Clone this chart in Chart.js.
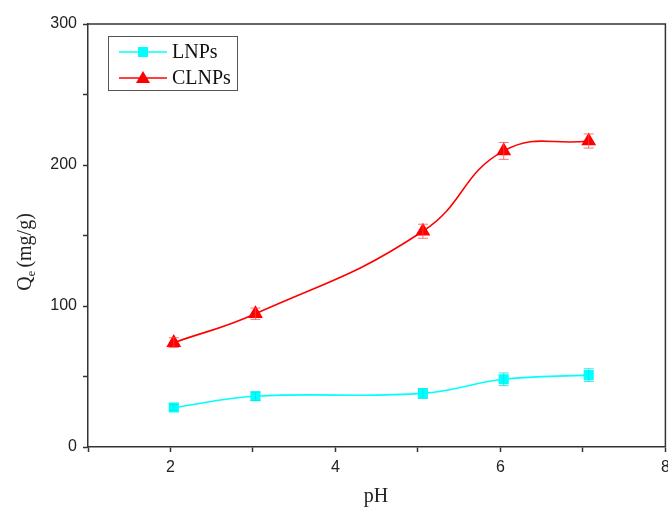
<!DOCTYPE html>
<html>
<head>
<meta charset="utf-8">
<script src="https://cdn.jsdelivr.net/npm/chart.js@4/dist/chart.umd.min.js"></script>
<style>
html,body{margin:0;padding:0;background:#fff;overflow:hidden;}
#wrap{width:668px;height:513px;position:relative;overflow:hidden;}
</style>
</head>
<body>
<div id="wrap"><canvas id="c" width="674" height="513"></canvas></div>
<script>
const phValues = [2.04, 3.03, 5.06, 6.04, 7.07];
const lnpsQe = [28, 36, 38, 48, 51];
const lnpsErr = [2, 3, 3.5, 4.5, 4.5];
const clnpsQe = [74, 94.5, 153, 210, 217];
const clnpsErr = [3.5, 4, 5, 6, 5];
const seriesNames = ['LNPs', 'CLNPs'];
const xTickLabels = [2, 4, 6, 8];
const yTickLabels = [0, 100, 200, 300];

const CYAN = '#00FFFF';
const RED = '#FF0000';
const AXIS = '#333333';

function pts(xs, ys){ return xs.map((x,i)=>({x:x, y:ys[i]})); }

const errorBars = {
  id:'errorBars',
  afterDatasetsDraw(chart){
    const ctx = chart.ctx;
    const ys = chart.scales.y, xs = chart.scales.x;
    chart.data.datasets.forEach((ds)=>{
      ctx.save();
      ctx.strokeStyle = ds.errColor;
      ctx.lineWidth = 1;
      ds.data.forEach((p,i)=>{
        const e = ds.errors[i];
        const px = xs.getPixelForValue(p.x);
        const y1 = ys.getPixelForValue(p.y + e);
        const y2 = ys.getPixelForValue(p.y - e);
        ctx.beginPath();
        ctx.moveTo(px, y1); ctx.lineTo(px, y2);
        ctx.moveTo(px-5, y1); ctx.lineTo(px+5, y1);
        ctx.moveTo(px-5, y2); ctx.lineTo(px+5, y2);
        ctx.stroke();
      });
      ctx.restore();
    });
  }
};

const frameAndLabels = {
  id:'frameAndLabels',
  afterDraw(chart){
    const ctx = chart.ctx;
    const a = chart.chartArea;
    ctx.save();
    ctx.strokeStyle = AXIS;
    ctx.lineWidth = 1.5;
    ctx.beginPath();
    ctx.moveTo(a.left, a.top); ctx.lineTo(a.right, a.top); ctx.lineTo(a.right, a.bottom);
    ctx.stroke();
    // x title
    ctx.fillStyle = '#222';
    ctx.font = '20px "Liberation Serif", "Times New Roman", serif';
    ctx.textAlign = 'center';
    ctx.textBaseline = 'middle';
    ctx.fillText('pH', 376, 497);
    // y title with subscript
    ctx.translate(24, 252);
    ctx.rotate(-Math.PI/2);
    const f1 = '20px "Liberation Serif", "Times New Roman", serif';
    const f2 = '13px "Liberation Serif", "Times New Roman", serif';
    ctx.font = f1; const wQ = ctx.measureText('Q').width;
    ctx.font = f2; const wE = ctx.measureText('e').width;
    ctx.font = f1; const wR = ctx.measureText('(mg/g)').width;
    const total = wQ + wE + 3 + wR;
    let x0 = -total/2;
    ctx.textAlign = 'left';
    ctx.textBaseline = 'alphabetic';
    ctx.font = f1; ctx.fillText('Q', x0, 7);
    ctx.font = f2; ctx.fillText('e', x0 + wQ, 11);
    ctx.font = f1; ctx.fillText('(mg/g)', x0 + wQ + wE + 3, 7);
    ctx.restore();

    // legend
    ctx.save();
    ctx.strokeStyle = '#555';
    ctx.lineWidth = 1;
    ctx.strokeRect(108.5, 36.5, 129, 54);
    const rows = [
      {ds: chart.data.datasets[0], y: 52},
      {ds: chart.data.datasets[1], y: 78}
    ];
    rows.forEach(r=>{
      ctx.strokeStyle = r.ds.borderColor;
      ctx.lineWidth = 1.5;
      ctx.beginPath(); ctx.moveTo(119, r.y); ctx.lineTo(167, r.y); ctx.stroke();
      ctx.fillStyle = r.ds.pointBackgroundColor;
      if (r.ds.pointStyle === 'rect') {
        ctx.fillRect(143-5, r.y-5, 10, 10);
      } else {
        ctx.beginPath();
        ctx.moveTo(143, r.y-7); ctx.lineTo(150, r.y+5); ctx.lineTo(136, r.y+5); ctx.closePath(); ctx.fill();
      }
      ctx.fillStyle = '#111';
      ctx.font = '20px "Liberation Serif", "Times New Roman", serif';
      ctx.textAlign = 'left';
      ctx.textBaseline = 'middle';
      ctx.fillText(r.ds.label, 172, r.y + 1);
    });
    ctx.restore();
  }
};

new Chart(document.getElementById('c'), {
  type:'line',
  data:{
    datasets:[
      {label: seriesNames[0], data: pts(phValues, lnpsQe), errors: lnpsErr,
       borderColor: CYAN, backgroundColor: CYAN, pointBackgroundColor: CYAN, pointBorderColor: CYAN,
       errColor: 'rgba(0,230,230,0.8)',
       pointStyle:'rect', pointRadius:6, borderWidth:1.6, tension:0.4, fill:false},
      {label: seriesNames[1], data: pts(phValues, clnpsQe), errors: clnpsErr,
       borderColor: RED, backgroundColor: RED, pointBackgroundColor: RED, pointBorderColor: RED,
       errColor: 'rgba(255,70,70,0.75)',
       pointStyle:'triangle', pointRadius:7, borderWidth:1.6, tension:0.45, fill:false}
    ]
  },
  options:{
    responsive:false,
    animation:false,
    layout:{padding:{left:0, top:24, right:0, bottom:0}},
    plugins:{legend:{display:false}, tooltip:{enabled:false}},
    scales:{
      x:{
        type:'linear', min:1, max:8,
        afterFit(s){ s.height = 66; s.paddingRight = 0; s.paddingLeft = 0; },
        ticks:{stepSize:1, color:'#222', padding:6,
          font:{family:'"Liberation Sans", Arial, sans-serif', size:16},
          callback:(v)=> xTickLabels.includes(v) ? String(v) : ''},
        grid:{display:true, drawOnChartArea:false, drawTicks:true, tickLength:5, color:AXIS, tickWidth:1.5},
        border:{display:true, color:AXIS, width:1.5}
      },
      y:{
        type:'linear', min:0, max:300,
        afterFit(s){ s.width = 88; s.paddingTop = 0; s.paddingBottom = 0; },
        ticks:{stepSize:50, color:'#222', padding:6,
          font:{family:'"Liberation Sans", Arial, sans-serif', size:16},
          callback:(v)=> yTickLabels.includes(v) ? String(v) : ''},
        grid:{display:true, drawOnChartArea:false, drawTicks:true, tickLength:5, color:AXIS, tickWidth:1.5},
        border:{display:true, color:AXIS, width:1.5}
      }
    }
  },
  plugins:[errorBars, frameAndLabels]
});
</script>
</body>
</html>
